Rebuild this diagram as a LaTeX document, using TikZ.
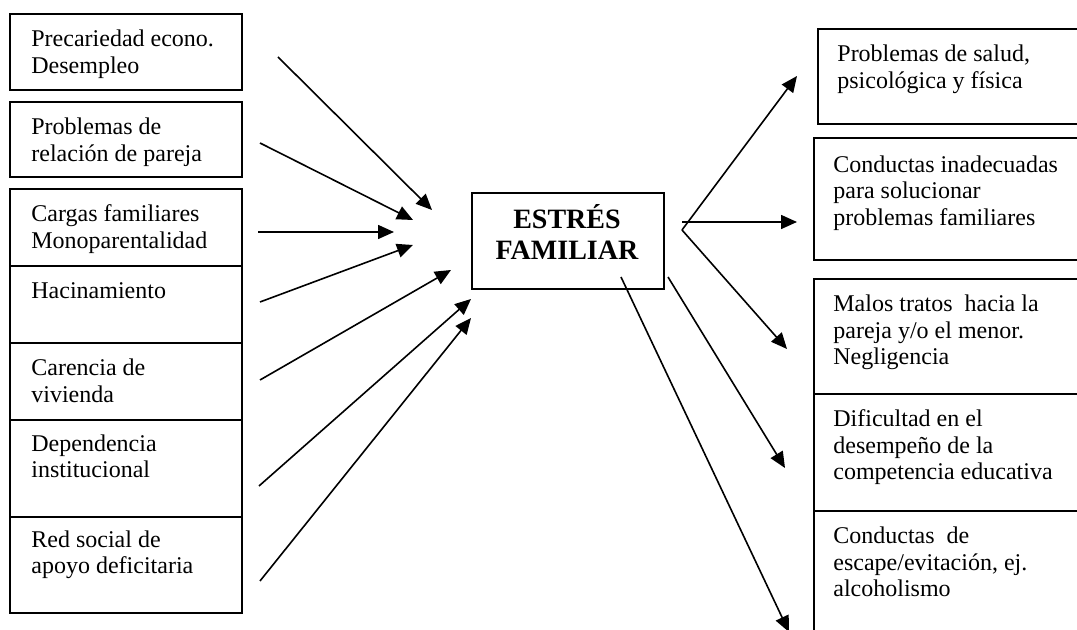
\documentclass[tikz,border=0pt]{standalone}
\usepackage{fontspec}
\setmainfont{Liberation Serif}
\usetikzlibrary{arrows.meta}
\begin{document}
\begin{tikzpicture}[x=0.5pt,y=-0.5pt,
  box/.style={draw, line width=1pt, anchor=north west, inner sep=0pt, minimum width=116pt},
  rbox/.style={draw, line width=1pt, anchor=north west, inner sep=0pt, minimum width=136.5pt},
  txt/.style={anchor=north west, inner sep=0pt, align=left, font=\fontsize{12}{13.3}\selectfont},
  arr/.style={-{Triangle[length=8pt,width=7pt]}, line width=0.8pt}]
\clip (0,0) rectangle (1077,630);
% left boxes
\node[box, minimum height=38pt]   (l1) at (9,13)  {};
\node[box, minimum height=37.5pt] (l2) at (9,101) {};
\node[box, minimum height=38.5pt] (l3) at (9,188) {};
\node[box, minimum height=38.5pt] (l4) at (9,265) {};
\node[box, minimum height=38.5pt] (l5) at (9,342) {};
\node[box, minimum height=48.5pt] (l6) at (9,419) {};
\node[box, minimum height=48pt]   (l7) at (9,516) {};
\node[txt] (lt1) at ([shift={(22,14.4)}]l1.north west) {\strut Precariedad econo.\\Desempleo};
\node[txt] (lt2) at ([shift={(22,14.4)}]l2.north west) {\strut Problemas de\\relación de pareja};
\node[txt] (lt3) at ([shift={(22,14.4)}]l3.north west) {\strut Cargas familiares\\Monoparentalidad};
\node[txt] (lt4) at ([shift={(22,14.4)}]l4.north west) {\strut Hacinamiento};
\node[txt] (lt5) at ([shift={(22,14.4)}]l5.north west) {\strut Carencia de\\vivienda};
\node[txt] (lt6) at ([shift={(22,13)}]l6.north west) {\strut Dependencia\\institucional};
\node[txt] (lt7) at ([shift={(22,12)}]l7.north west) {\strut Red social de\\apoyo deficitaria};
% center
\node[draw, line width=1pt, anchor=north west, inner sep=0pt, minimum width=96pt, minimum height=48pt] (c) at (471,192) {};
\node[anchor=south, inner sep=0pt, align=center, font=\fontsize{14}{15.5}\selectfont\bfseries] (ct) at (567,269.5) {ESTRÉS\\FAMILIAR\strut};
% right boxes
\node[rbox, minimum height=47.5pt] (r1) at (817,28)  {};
\node[rbox, minimum height=61pt]   (r2) at (813,137) {};
\node[rbox, minimum height=57.5pt] (r3) at (813,278) {};
\node[rbox, minimum height=58.5pt] (r4) at (813,393) {};
\node[rbox, minimum height=70pt]   (r5) at (813,510) {};
\node[txt] (rt1) at ([shift={(20,14.4)}]r1.north west) {\strut Problemas de salud,\\psicológica y física};
\node[txt] (rt2) at ([shift={(20,16)}]r2.north west) {\strut Conductas inadecuadas\\para solucionar\\problemas familiares};
\node[txt] (rt3) at ([shift={(20,14.4)}]r3.north west) {\strut Malos tratos\ \ hacia la\\pareja y/o el menor.\\Negligencia};
\node[txt] (rt4) at ([shift={(20,14.4)}]r4.north west) {\strut Dificultad en el\\desempeño de la\\competencia educativa};
\node[txt] (rt5) at ([shift={(20,14.4)}]r5.north west) {\strut Conductas\ \ de\\escape/evitación, ej.\\alcoholismo};
% arrow end points
\coordinate (s1) at (278,57);  \coordinate (e1) at (432,210);
\coordinate (s2) at (260,143); \coordinate (e2) at (413,220);
\coordinate (s3) at (258,232); \coordinate (e3) at (394,232);
\coordinate (s4) at (260,302); \coordinate (e4) at (413,245);
\coordinate (s5) at (260,380); \coordinate (e5) at (451,270);
\coordinate (s6) at (259,486); \coordinate (e6) at (471,299);
\coordinate (s7) at (260,581); \coordinate (e7) at (471,318);
\foreach \i in {1,...,7} { \draw[arr] (s\i) -- (e\i); }
\coordinate (j) at (682,230);
\coordinate (h0) at (682,222);
\coordinate (t1) at (797,76);
\coordinate (t2) at (797,222);
\coordinate (t3) at (787,349);
\coordinate (u4) at (668,277); \coordinate (t4) at (785,468);
\coordinate (u5) at (621,277); \coordinate (t5) at (789,632);
\draw[arr] (j) -- (t1);
\draw[arr] (h0) -- (t2);
\draw[arr] (j) -- (t3);
\draw[arr] (u4) -- (t4);
\draw[arr] (u5) -- (t5);
\end{tikzpicture}
\end{document}
